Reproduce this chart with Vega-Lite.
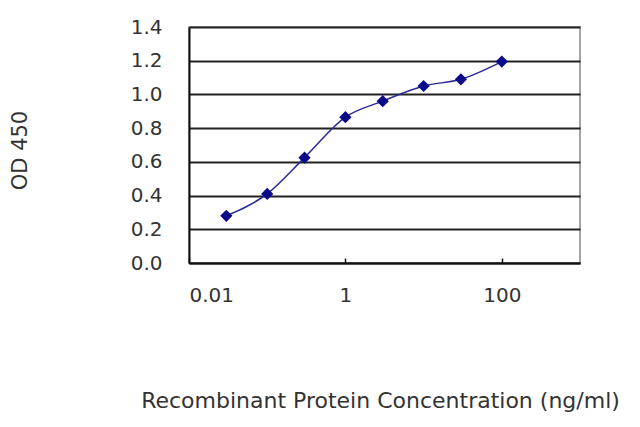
{
  "$schema": "https://vega.github.io/schema/vega-lite/v6.json",
  "width": 391,
  "height": 236,
  "autosize": {"type": "none"},
  "padding": {"left": 189, "top": 27, "right": 60, "bottom": 164},
  "background": "white",
  "data": {"values": [
    {"conc": 0.03, "od": 0.28},
    {"conc": 0.1, "od": 0.41},
    {"conc": 0.3, "od": 0.625},
    {"conc": 1, "od": 0.865},
    {"conc": 3, "od": 0.96},
    {"conc": 10, "od": 1.05},
    {"conc": 30, "od": 1.09},
    {"conc": 100, "od": 1.195}
  ]},
  "config": {
    "view": {"stroke": "#888888", "strokeWidth": 1.5},
    "font": "DejaVu Sans"
  },
  "encoding": {
    "x": {
      "field": "conc", "type": "quantitative",
      "scale": {"type": "log", "domain": [0.01, 1000], "nice": false},
      "axis": {
        "values": [0.01, 1, 100],
        "labelExpr": "datum.value == 0.01 ? '0.01' : datum.value == 1 ? '1' : '100'",
        "grid": false, "domainColor": "#111111", "domainWidth": 2,
        "tickColor": "#111111", "tickSize": -5, "tickWidth": 1.5,
        "labelPadding": 27, "labelFontSize": 20, "labelColor": "#333333",
        "title": "Recombinant Protein Concentration (ng/ml)",
        "titleFontSize": 22, "titleFontWeight": "normal", "titleColor": "#333333",
        "titleX": 191, "titleY": 137, "titleBaseline": "middle"
      }
    },
    "y": {
      "field": "od", "type": "quantitative",
      "scale": {"domain": [0, 1.4], "nice": false},
      "axis": {
        "values": [0, 0.2, 0.4, 0.6, 0.8, 1.0, 1.2, 1.4],
        "format": ".1f",
        "grid": true, "gridColor": "#222222", "gridWidth": 2,
        "domainColor": "#111111", "domainWidth": 2, "ticks": false,
        "labelPadding": 27, "labelFontSize": 20, "labelColor": "#333333",
        "title": "OD 450", "titleFontSize": 21, "titleFontWeight": "normal", "titleColor": "#333333",
        "titleX": -169, "titleY": 123, "titleAngle": -90, "titleBaseline": "middle", "titleAlign": "center"
      }
    }
  },
  "layer": [
    {"mark": {"type": "line", "color": "#2a2a96", "strokeWidth": 1.5, "interpolate": "monotone"}},
    {"mark": {"type": "point", "shape": "diamond", "filled": true, "color": "#0a0a8a", "size": 150, "opacity": 1}}
  ]
}
